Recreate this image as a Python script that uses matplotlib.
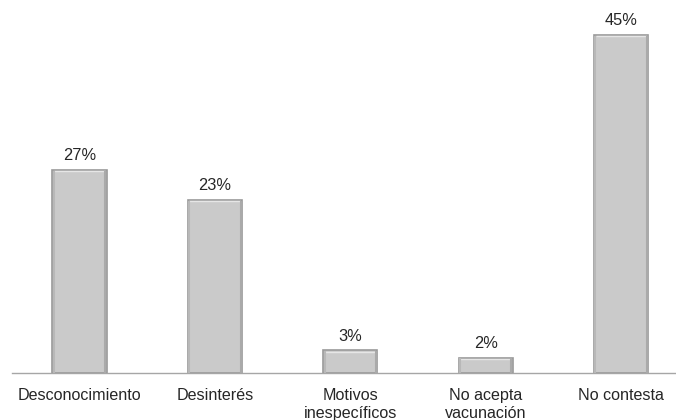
import matplotlib.pyplot as plt
import numpy as np

categories = ["Desconocimiento", "Desinterés", "Motivos\ninespecíficos",
              "No acepta\nvacunación", "No contesta"]
values = [27, 23, 3, 2, 45]
labels = ["27%", "23%", "3%", "2%", "45%"]

plt.rcParams['font.family'] = ['Liberation Sans', 'DejaVu Sans']

fig = plt.figure(figsize=(6.76, 4.2), dpi=100)
# axes wider than figure on the right: axis line runs off the edge
ax = fig.add_axes([11.8 / 676, 47 / 420, 677 / 676, 375.5 / 420])

x = np.arange(len(values))
bars = ax.bar(x, values, width=0.4, color='#cacaca', edgecolor='#9a9a9a',
              linewidth=1.2, zorder=2)

# light bevel on the top and inner sides
for b in bars:
    x0, w, h = b.get_x(), b.get_width(), b.get_height()
    ax.plot([x0 + 0.012, x0 + w - 0.012], [h - 0.15, h - 0.15],
            color='#e6e6e6', lw=1.0, zorder=3, solid_capstyle='butt')
    ax.plot([x0 + 0.01, x0 + 0.01], [0, h - 0.2], color='#b8b8b8',
            lw=1.5, zorder=3)
    ax.plot([x0 + w - 0.01, x0 + w - 0.01], [0, h - 0.2], color='#aaaaaa',
            lw=1.5, zorder=3)

for xi, v, lab in zip(x, values, labels):
    ax.annotate(lab, (xi, v), xytext=(0, 5), textcoords='offset points',
                ha='center', va='bottom', fontsize=11.8, color='#262626')

ax.set_xlim(-0.5, 4.5)
ax.set_ylim(0, 50)
ax.set_xticks(x)
ax.set_xticklabels(categories, fontsize=11.6, color='#262626',
                   linespacing=1.25)
ax.tick_params(axis='x', length=0, pad=10.5)
ax.set_yticks([])
for s in ['top', 'right', 'left']:
    ax.spines[s].set_visible(False)
ax.spines['bottom'].set_color('#a6a6a6')
ax.spines['bottom'].set_linewidth(1.0)

fig.savefig('out.png', dpi=100)
